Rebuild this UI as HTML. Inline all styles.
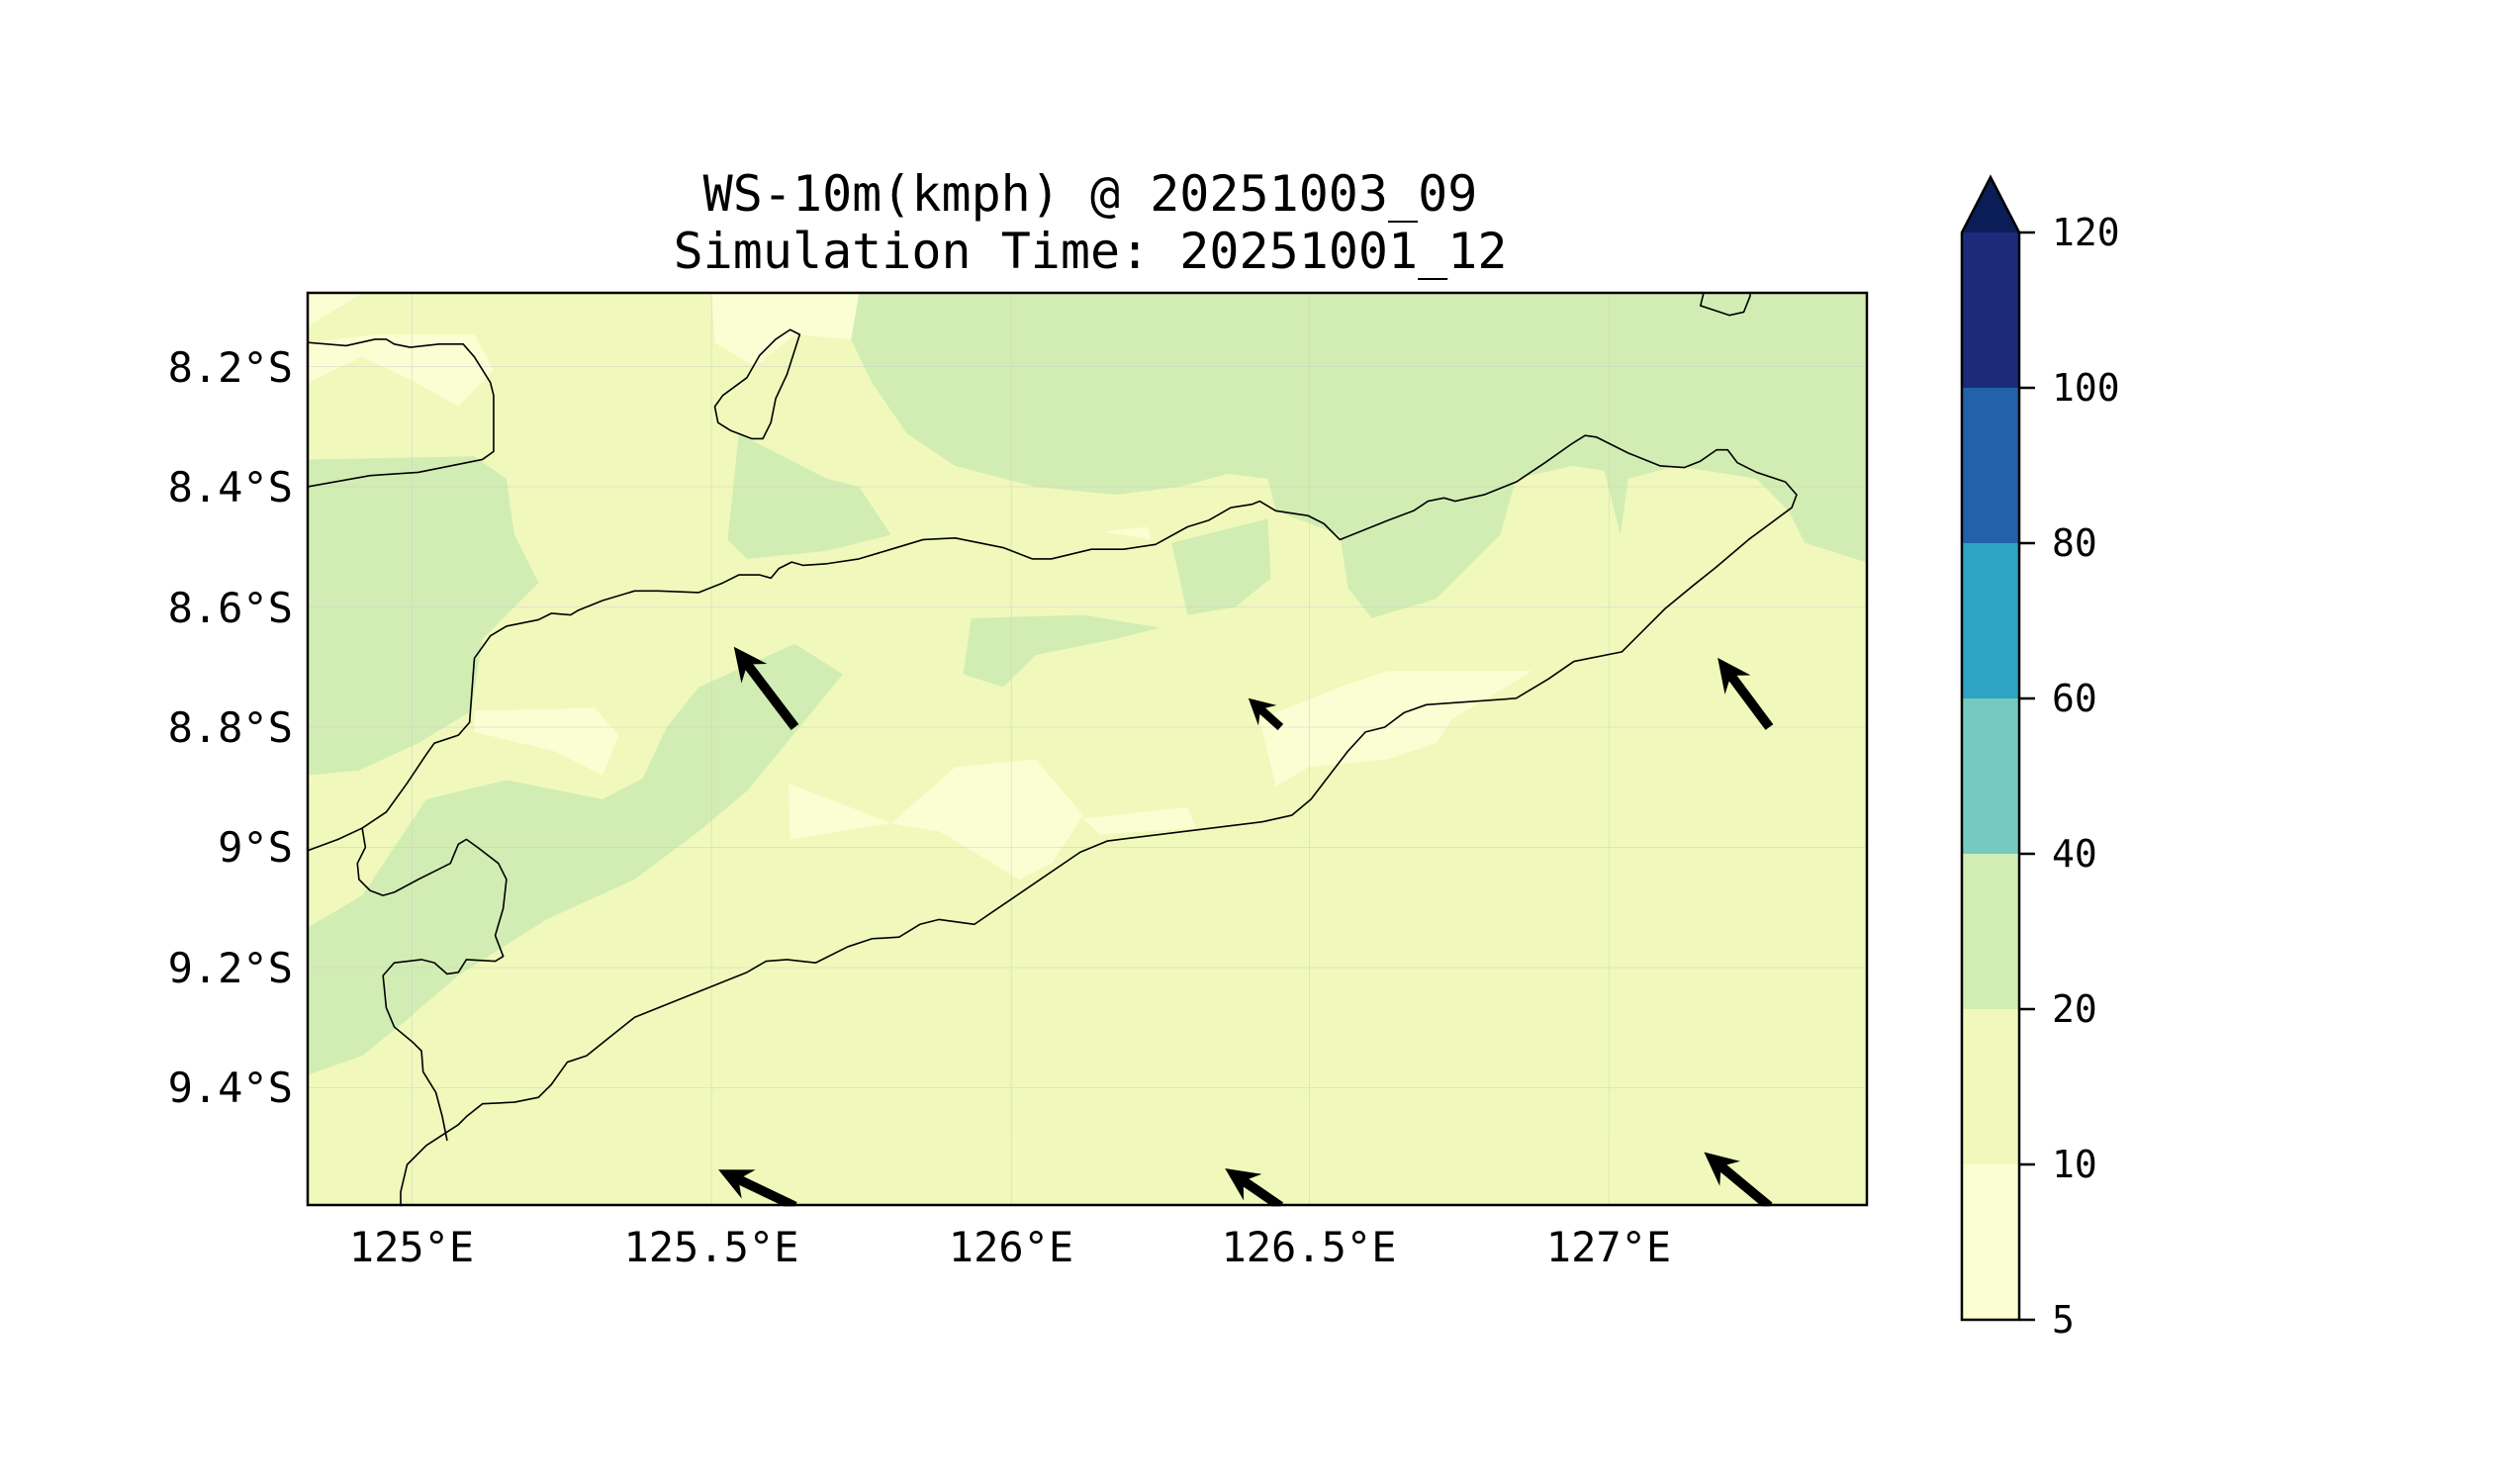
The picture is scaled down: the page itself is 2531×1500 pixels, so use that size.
<!DOCTYPE html>
<html><head><meta charset="utf-8"><style>
html,body{margin:0;padding:0;background:#fff;}
svg{display:block;font-family:"DejaVu Sans Mono","Liberation Mono",monospace;}
</style></head><body>
<svg width="2531" height="1500" viewBox="0 0 2531 1500" xmlns="http://www.w3.org/2000/svg">
<rect width="2531" height="1500" fill="#fff"/>
<text x="1102" y="213" font-size="50" text-anchor="middle">WS-10m(kmph) @ 20251003_09</text>
<text x="1102" y="271" font-size="50" text-anchor="middle">Simulation Time: 20251001_12</text>
<defs><clipPath id="c"><rect x="196" y="184" width="972" height="570"/></clipPath></defs>
<g transform="translate(-6.5,-2.1) scale(1.62)">
<g clip-path="url(#c)">
<rect x="196" y="184" width="972" height="570" fill="#f0f9bb"/>
<g fill="#d2edb3">
<polygon points="540,184 1168,184 1168,352 1130,340 1120,320 1100,300 1050,292 1020,300 1015,335 1005,295 985,292 950,300 940,335 900,375 860,387 845,368 840,335 800,320 795,300 770,297 740,305 700,310 650,305 600,292 570,272 548,240 535,213"/>
<polygon points="735,340 795,325 797,362 775,380 745,385"/>
<polygon points="196,288 300,286 320,300 325,335 340,365 305,400 298,445 265,465 228,482 196,485"/>
<polygon points="196,580 230,560 270,500 320,488 380,500 405,487 420,455 440,430 500,403 530,422 470,495 440,520 400,550 345,575 290,610 255,640 230,660 196,672"/>
<polygon points="465,272 520,300 540,305 560,335 520,345 470,350 458,338"/>
<polygon points="610,387 680,385 728,393 700,400 650,410 630,430 605,422"/>
</g>
<g fill="#fbfed3">
<polygon points="196,184 230,184 196,205"/>
<polygon points="240,210 300,210 312,232 290,255 260,238 230,224 196,240 196,215"/>
<polygon points="448,184 540,184 535,213 500,210 475,230 450,215"/>
<polygon points="496,490 560,515 600,480 650,475 680,510 660,540 640,550 590,520 560,515 497,525"/>
<polygon points="300,445 375,443 390,460 380,485 350,470 300,458"/>
<polygon points="790,450 840,430 870,420 960,420 910,450 900,465 870,475 820,480 800,492"/>
<polygon points="693,333 720,330 722,338"/>
<polygon points="680,512 745,505 750,518 690,522"/>
</g>
<g stroke="#ccc" stroke-width="0.5" opacity="0.6" fill="none">
<path d="M261,184V754M448,184V754M635,184V754M821,184V754M1008,184V754M196,230H1168M196,305H1168M196,380H1168M196,455H1168M196,530H1168M196,605H1168M196,680H1168"/>
</g>
<g fill="none" stroke="#000" stroke-width="1" stroke-linejoin="round">
<polyline points="196,532 215,525 230,518 245,508 258,490 270,472 275,465 290,460 297,452 300,412 310,398 320,392 340,388 348,384 360,385 365,382 380,376 400,370 415,370 440,371 455,365 465,360 478,360 485,362 490,356 498,352 505,354 520,353 540,350 560,344 580,338 600,337 630,343 648,350 660,350 685,344 705,344 725,341 745,330 758,326 772,318 785,316 790,314 800,320 820,323 830,328 840,338 855,332 870,326 886,320 895,314 905,312 912,314 930,310 950,302 968,290 985,278 993,273 1000,274 1020,284 1040,292 1055,293 1065,289 1075,282 1082,282 1088,290 1100,296 1118,302 1125,310 1122,318 1095,338 1075,355 1060,367 1043,381 1030,394 1016,408 986,414 970,425 950,437 894,441 880,446 868,455 856,458 845,470 835,483 822,500 810,510 792,514 695,526 678,533 612,578 590,575 578,578 565,586 548,587 533,592 513,602 495,600 482,601 470,608 400,636 385,648 370,660 358,664 348,678 340,686 325,689 305,690 295,698 290,703 270,716 258,728 254,745 254,754"/>
<polyline points="196,215 220,217 238,213 245,213 250,216 260,218 278,216 293,216 300,224 310,240 312,248 312,283 305,288 290,291 265,296 235,298 196,305"/>
<polygon points="497,207 503,210 495,235 488,250 485,265 480,275 473,275 460,270 452,265 450,255 455,248 470,237 478,223 488,213"/>
<polyline points="1067,184 1065,192 1083,198 1092,196 1096,186 1096,184"/>
<polyline points="230,518 232,530 227,540 228,550 235,557 243,560 250,558 265,550 275,545 285,540 290,528 295,525 302,530 315,540 320,550 318,568 313,585 318,598 313,601 295,600 290,608 283,609 275,602 267,600 250,602 243,610 245,630 250,642 262,652 267,657 268,670 276,683 280,698 283,713"/>
</g>
<g fill="#000">
<polygon transform="translate(500,455) rotate(-127.2)" points="0,-3 47,-3 42,-10 63,0 42,10 47,3 0,3"/>
<polygon transform="translate(803,455) rotate(-138)" points="0,-2.6 15,-2.6 11,-8.5 27,0 11,8.5 15,2.6 0,2.6"/>
<polygon transform="translate(1108,455) rotate(-126.7)" points="0,-3 38,-3 33,-10 54,0 33,10 38,3 0,3"/>
<polygon transform="translate(500,754) rotate(-154.4)" points="0,-3 37,-3 32,-10 53,0 32,10 37,3 0,3"/>
<polygon transform="translate(803,754) rotate(-145.6)" points="0,-3 26,-3 21,-10 42,0 21,10 26,3 0,3"/>
<polygon transform="translate(1108,754) rotate(-140.3)" points="0,-3 37,-3 32,-10 53,0 32,10 37,3 0,3"/>
</g>
</g>
</g>
<rect x="311" y="296" width="1576" height="922" fill="none" stroke="#000" stroke-width="2.5"/>
<g font-size="42" text-anchor="middle">
<text x="416" y="1275">125°E</text>
<text x="719" y="1275">125.5°E</text>
<text x="1022" y="1275">126°E</text>
<text x="1323" y="1275">126.5°E</text>
<text x="1626" y="1275">127°E</text>
</g>
<g font-size="42" text-anchor="end">
<text x="296" y="386">8.2°S</text>
<text x="296" y="507">8.4°S</text>
<text x="296" y="629">8.6°S</text>
<text x="296" y="750">8.8°S</text>
<text x="296" y="871">9°S</text>
<text x="296" y="993">9.2°S</text>
<text x="296" y="1114">9.4°S</text>
</g>
<polygon points="1983,235 2012,179 2041,235" fill="#0b1d56"/>
<rect x="1983" y="235" width="58" height="157" fill="#1d2a7c"/>
<rect x="1983" y="392" width="58" height="157" fill="#2162aa"/>
<rect x="1983" y="549" width="58" height="157" fill="#2ea3c3"/>
<rect x="1983" y="706" width="58" height="157" fill="#76c9be"/>
<rect x="1983" y="863" width="58" height="157" fill="#d2edb3"/>
<rect x="1983" y="1020" width="58" height="157" fill="#f0f9bb"/>
<rect x="1983" y="1177" width="58" height="157" fill="#fbfed3"/>
<polygon points="1983,1334 1983,235 2012,179 2041,235 2041,1334" fill="none" stroke="#000" stroke-width="2.5"/>
<g stroke="#000" stroke-width="2.5">
<path d="M2041,235h16M2041,392h16M2041,549h16M2041,706h16M2041,863h16M2041,1020h16M2041,1177h16M2041,1334h16"/>
</g>
<g font-size="38">
<text x="2074" y="248">120</text>
<text x="2074" y="405">100</text>
<text x="2074" y="562">80</text>
<text x="2074" y="719">60</text>
<text x="2074" y="876">40</text>
<text x="2074" y="1033">20</text>
<text x="2074" y="1190">10</text>
<text x="2074" y="1347">5</text>
</g>
</svg>
</body></html>
